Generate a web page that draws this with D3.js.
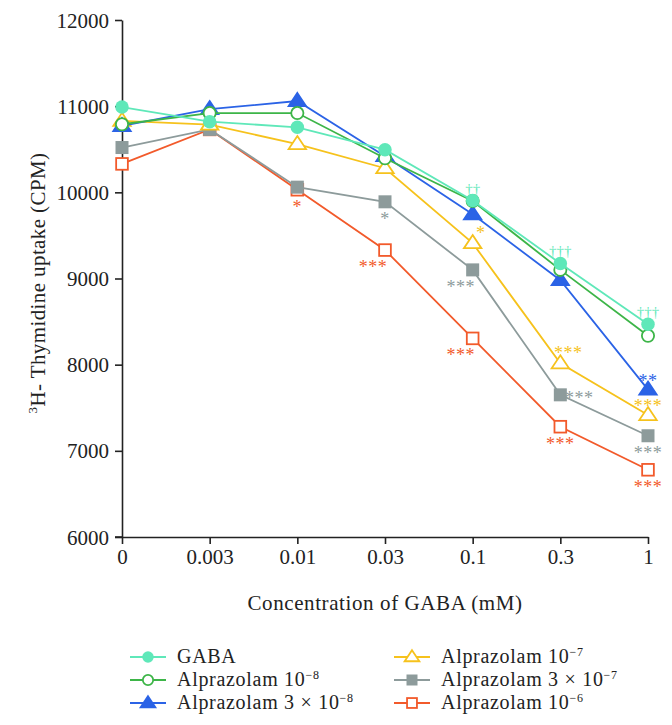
<!DOCTYPE html>
<html><head><meta charset="utf-8">
<script src="https://cdn.jsdelivr.net/npm/d3@7"></script>
<style>body{margin:0;background:#fff}svg{display:block}text{font-family:"Liberation Serif","DejaVu Serif",serif}</style>
</head><body><svg id="c" width="672" height="725"></svg>
<script>
const concentrations = ["0","0.003","0.01","0.03","0.1","0.3","1"];
const yTicks = [6000,7000,8000,9000,10000,11000,12000];
const gaba      = [10990,10820,10755,10495,9905,9175,8470];
const alp1e8    = [10790,10920,10920,10395,9900,9100,8335];
const alp3e8    = [10770,10965,11060,10420,9745,8980,7710];
const alp1e7    = [10830,10785,10560,10280,9410,8015,7415];
const alp3e7    = [10520,10730,10060,9890,9100,7650,7175];
const alp1e6    = [10330,10730,10030,9330,8305,7280,6780];
const seriesNames = ["GABA","Alprazolam 10|−8","Alprazolam 3 × 10|−8","Alprazolam 10|−7","Alprazolam 3 × 10|−7","Alprazolam 10|−6"];
const seriesValues = [gaba, alp1e8, alp3e8, alp1e7, alp3e7, alp1e6];
// significance marks: [series index, concentration index, text, placement]
const marks = [
  [5,2,"*","below"],[4,3,"*","below"],[5,3,"***","belowLeft"],
  [3,4,"*","aboveRight"],[4,4,"***","belowLeft"],[5,4,"***","belowLeft"],
  [0,4,"††","above"],[0,5,"†††","above"],[0,6,"†††","above"],
  [3,5,"***","aboveRight"],[2,6,"**","above"],[3,6,"***","above"],
  [4,5,"***","right"],[4,6,"***","below"],[5,5,"***","below"],[5,6,"***","below"]
];

const colors = ["#5fe8b9","#3db548","#2b63e6","#f6c21c","#8d9b9b","#f25a2b"];
const shapes = ["circle","circleOpen","triangle","triangleOpen","square","squareOpen"];
const svg = d3.select("#c");
const x = d3.scalePoint().domain(concentrations).range([122,648]);
const y = d3.scaleLinear().domain([6000,12000]).range([537,20]);

const yAxis = svg.append("g").attr("transform","translate(122,0)")
  .call(d3.axisLeft(y).tickValues(yTicks).tickFormat(d3.format("d")).tickSize(7).tickSizeOuter(0));
const xAxis = svg.append("g").attr("transform","translate(0,537)")
  .call(d3.axisBottom(x).tickSize(7).tickSizeOuter(0));
[yAxis,xAxis].forEach(a=>{
  a.select(".domain").attr("stroke","#222").attr("stroke-width",1.6);
  a.selectAll(".tick line").attr("stroke","#222").attr("stroke-width",1.6);
  a.selectAll(".tick text").attr("font-family","Liberation Serif").attr("font-size",21).attr("fill","#222");
});
yAxis.selectAll(".tick text").attr("x",-13).attr("dy","0.34em");
xAxis.selectAll(".tick text").attr("y",12);
svg.append("line").attr("x1",115).attr("x2",122).attr("y1",537).attr("y2",537).attr("stroke","#222").attr("stroke-width",1.6);

svg.append("text").attr("x",385).attr("y",610).attr("text-anchor","middle").attr("font-size",21).attr("letter-spacing",0.6).attr("fill","#222")
  .text("Concentration of GABA (mM)");
const yl = svg.append("text").attr("transform","translate(45,283) rotate(-90)").attr("text-anchor","middle").attr("font-size",21).attr("letter-spacing",0.4).attr("fill","#222");
yl.append("tspan").attr("font-size",13).attr("dy",-8).text("3");
yl.append("tspan").attr("dy",8).text("H- Thymidine uptake (CPM)");

function drawMarker(g, shape, color, cx, cy, s){
  const filled = !shape.endsWith("Open");
  const fill = filled ? color : "#fff";
  if(shape.startsWith("circle")){
    g.append("circle").attr("cx",cx).attr("cy",cy).attr("r",filled? s*0.52 : s*0.47)
     .attr("fill",fill).attr("stroke",color).attr("stroke-width",filled?0:1.8);
  } else if(shape.startsWith("square")){
    const h = filled? s*0.5 : s*0.45;
    g.append("rect").attr("x",cx-h).attr("y",cy-h).attr("width",2*h).attr("height",2*h)
     .attr("fill",fill).attr("stroke",color).attr("stroke-width",filled?0:1.8);
  } else {
    const h = s*0.62;
    g.append("path").attr("d",`M${cx},${cy-h} L${cx+h*1.08},${cy+h*0.62} L${cx-h*1.08},${cy+h*0.62} Z`)
     .attr("fill",fill).attr("stroke",color).attr("stroke-width",1.8).attr("stroke-linejoin","miter");
  }
}

const order = [5,4,3,2,1,0];
const line = d3.line().x((d,i)=>x(concentrations[i])).y(d=>y(d));
order.forEach(k=>{
  const g = svg.append("g");
  g.append("path").datum(seriesValues[k]).attr("d",line).attr("fill","none").attr("stroke",colors[k]).attr("stroke-width",1.8);
  seriesValues[k].forEach((v,i)=>drawMarker(g, shapes[k], colors[k], x(concentrations[i]), y(v), 13));
});

const place = {below:[0,14],belowLeft:[-12,14],above:[0,-12],aboveRight:[8,-13],right:[19,0]};
marks.forEach(([k,i,t,p])=>{
  const [dx,dy] = place[p];
  const cx = x(concentrations[i])+dx, cy = y(seriesValues[k][i])+dy;
  const dagger = t.startsWith("†");
  svg.append("text").attr("x",cx).attr("y",cy + (dagger?5:9)).attr("text-anchor","middle")
    .attr("font-size",dagger?15:18).attr("fill",colors[k]).attr("letter-spacing",dagger?0:0.5).text(t);
});

// legend
const legendCols = [[0,1,2],[3,4,5]];
const colX = [130,394];
const rowY = [657,680,703];
legendCols.forEach((col,ci)=>col.forEach((k,ri)=>{
  const g = svg.append("g");
  const lx = colX[ci], ly = rowY[ri];
  g.append("line").attr("x1",lx).attr("x2",lx+36).attr("y1",ly).attr("y2",ly).attr("stroke",colors[k]).attr("stroke-width",1.8);
  drawMarker(g, shapes[k], colors[k], lx+18, ly, 11);
  const [base,sup] = seriesNames[k].split("|");
  const t = g.append("text").attr("x",lx+47).attr("y",ly+6).attr("font-size",20).attr("letter-spacing",0.7).attr("fill","#222");
  t.append("tspan").text(base);
  if(sup) t.append("tspan").attr("font-size",12).attr("dy",-7).text(sup);
}));
</script></body></html>
